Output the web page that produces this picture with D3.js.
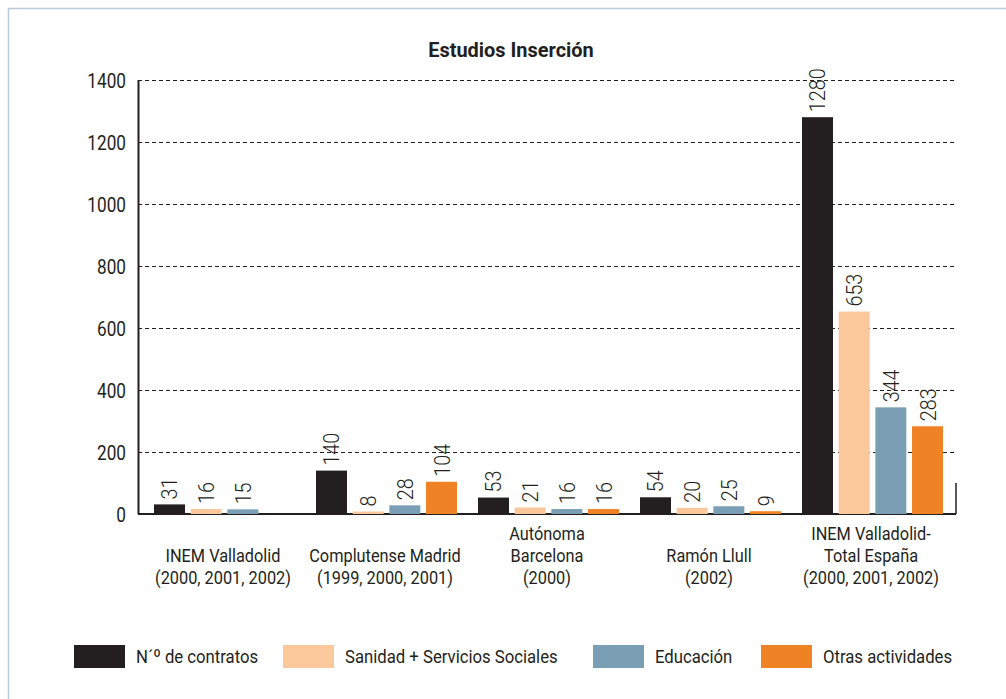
<!DOCTYPE html>
<html>
<head>
<meta charset="utf-8">
<script src="https://cdn.jsdelivr.net/npm/d3@7"></script>
<style>
  body { margin: 0; background: #fff; }
  svg text { font-family: "Roboto", "Liberation Sans", sans-serif; fill: #231f20; }
</style>
</head>
<body>
<div id="chart"></div>
<script>
// datos del gráfico
var grupos = [
  ["INEM Valladolid", "(2000, 2001, 2002)"],
  ["Complutense Madrid", "(1999, 2000, 2001)"],
  ["Autónoma", "Barcelona", "(2000)"],
  ["Ramón Llull", "(2002)"],
  ["INEM Valladolid-", "Total España", "(2000, 2001, 2002)"]
];
var series = ["N\u00b4\u00ba de contratos", "Sanidad + Servicios Sociales", "Educación", "Otras actividades"];
var contratos = [31, 140, 53, 54, 1280];
var sanidad   = [16, 8, 21, 20, 653];
var educacion = [15, 28, 16, 25, 344];
var otras     = [null, 104, 16, 9, 283];
var yTicks = [0, 200, 400, 600, 800, 1000, 1200, 1400];
var colores = ["#231f20", "#fbc89b", "#7a9fb5", "#f08226"];

var width = 1006, height = 699;
var margin = {top: 80, left: 138, right: 50, bottom: 185};
var plotW = width - margin.left - margin.right,   // 818
    plotH = height - margin.top - margin.bottom;  // 434
var narrow = 0.86; // la fuente original es condensada

var svg = d3.select("#chart").append("svg")
  .attr("width", width).attr("height", height);

// marco azul claro
svg.append("rect")
  .attr("x", 8.5).attr("y", 8.5)
  .attr("width", 1100).attr("height", 1000)
  .style("fill", "none").style("stroke", "#b9cadb").style("stroke-width", 1.5);

svg.append("text")
  .attr("transform", "translate(511,57) scale(0.95,1)")
  .attr("text-anchor", "middle")
  .style("font-size", "21px").style("font-weight", "bold")
  .text("Estudios Inserción");

var g = svg.append("g").attr("transform", "translate(" + margin.left + "," + margin.top + ")");

var y = d3.scaleLinear().domain([0, 1400]).range([plotH, 0]);

var x0 = d3.scaleBand()
  .domain(d3.range(grupos.length))
  .range([4, plotW - 4]);

var x1 = d3.scaleBand()
  .domain(d3.range(series.length))
  .range([12, 153])
  .paddingInner(0.155);

// rejilla punteada
g.selectAll(".grid")
  .data(yTicks.slice(1))
  .enter().append("line")
  .attr("x1", 0).attr("x2", plotW)
  .attr("y1", function(d){ return Math.round(y(d)) + 0.5; })
  .attr("y2", function(d){ return Math.round(y(d)) + 0.5; })
  .style("stroke", "#231f20").style("stroke-width", 1.2)
  .style("stroke-dasharray", "4,3");

// eje y
var yAxis = g.append("g")
  .call(d3.axisLeft(y).tickValues(yTicks).tickFormat(d3.format("d")).tickSize(0).tickPadding(14));
yAxis.select(".domain").remove();
yAxis.selectAll("text")
  .style("font-size", "20px")
  .attr("dy", "0.35em")
  .attr("transform", "scale(" + narrow + ",1)");

g.append("line")
  .attr("x1", 0.5).attr("x2", 0.5)
  .attr("y1", y(1400)).attr("y2", y(0))
  .style("stroke", "#231f20").style("stroke-width", 2);
g.append("line")
  .attr("x1", 0).attr("x2", plotW)
  .attr("y1", y(0)).attr("y2", y(0))
  .style("stroke", "#231f20").style("stroke-width", 2);
g.append("line")
  .attr("x1", plotW).attr("x2", plotW)
  .attr("y1", y(0)).attr("y2", y(100))
  .style("stroke", "#231f20").style("stroke-width", 1.5);

var valores = [contratos, sanidad, educacion, otras];
var datos = [];
grupos.forEach(function(gr, i) {
  series.forEach(function(s, j) {
    if (valores[j][i] != null) datos.push({grupo: i, serie: j, value: valores[j][i]});
  });
});

g.selectAll("rect.bar")
  .data(datos)
  .enter().append("rect")
  .attr("class", "bar")
  .attr("x", function(d){ return x0(d.grupo) + x1(d.serie); })
  .attr("y", function(d){ return y(d.value); })
  .attr("width", x1.bandwidth())
  .attr("height", function(d){ return y(0) - y(d.value); })
  .style("fill", function(d){ return colores[d.serie]; });

// etiquetas verticales
g.selectAll("text.val")
  .data(datos)
  .enter().append("text")
  .attr("class", "val")
  .attr("transform", function(d){
    var cx = x0(d.grupo) + x1(d.serie) + x1.bandwidth() / 2;
    return "translate(" + (cx + 8) + "," + (y(d.value) - 5) + ") rotate(-90) scale(0.9,1)";
  })
  .style("font-size", "22px").style("font-weight", 300)
  .text(function(d){ return d.value; });

// etiquetas de categoría (alineadas abajo)
var lineH = 22;
grupos.forEach(function(lines, i) {
  var cx = x0(i) + x0.bandwidth() / 2;
  lines.forEach(function(l, k) {
    g.append("text")
      .attr("text-anchor", "middle")
      .attr("transform", "translate(" + cx + "," + (plotH + 70 - (lines.length - 1 - k) * lineH) + ") scale(" + narrow + ",1)")
      .style("font-size", "19px")
      .text(l);
  });
});

// leyenda
var legX = [74, 283, 593, 761];
var leg = svg.selectAll(".leg")
  .data(series)
  .enter().append("g")
  .attr("transform", function(d, i){ return "translate(" + legX[i] + ",645)"; });
leg.append("rect")
  .attr("width", 51).attr("height", 23)
  .style("fill", function(d, i){ return colores[i]; });
leg.append("text")
  .attr("transform", "translate(62,18) scale(0.88,1)")
  .style("font-size", "19px")
  .text(function(d){ return d; });
</script>
</body>
</html>
